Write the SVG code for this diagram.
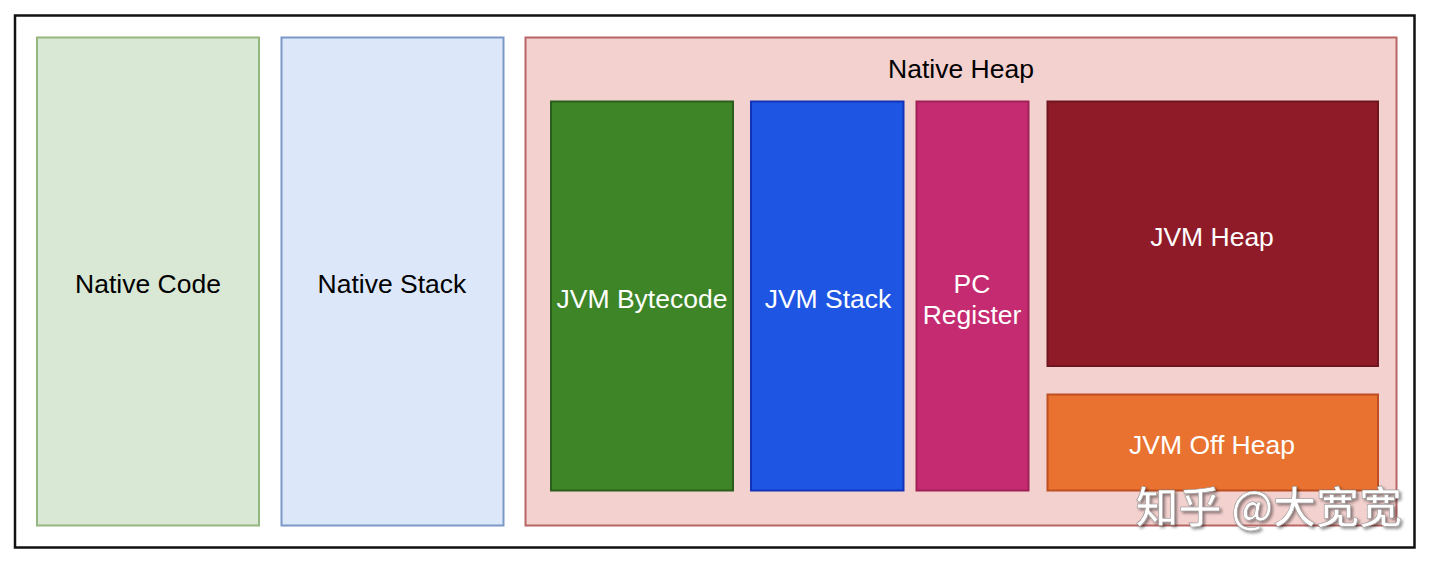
<svg xmlns="http://www.w3.org/2000/svg" width="1440" height="568" viewBox="0 0 1440 568">
<style>
.lbl{font-family:"Liberation Sans",Arial,sans-serif;font-size:26.5px;text-anchor:middle}
.dark{fill:#000}
.light{fill:#fff}
.box{stroke-width:2}
.wm{font-family:"Noto Sans CJK SC","Noto Sans",sans-serif;font-size:43px;font-weight:500;fill:#fff;stroke:#888;stroke-width:0.5;text-anchor:end}
</style>
<defs>
<filter id="sh" x="-10%" y="-20%" width="120%" height="140%">
<feDropShadow dx="2" dy="2" stdDeviation="1.5" flood-color="#000" flood-opacity="0.45"/>
</filter>
</defs>
<rect width="1440" height="568" fill="#fff"/>
<g id="frame"><rect x="15" y="15.5" width="1399.5" height="532" fill="#fff" stroke="#111" stroke-width="2.5"/></g>
<g id="native-code"><rect class="box" x="37" y="37.5" width="222" height="488" fill="#d9e7d5" stroke="#95b77f"/><text class="lbl dark" x="148" y="292.5">Native Code</text></g>
<g id="native-stack"><rect class="box" x="281.5" y="37.5" width="222" height="488" fill="#dce8fa" stroke="#7b98c7"/><text class="lbl dark" x="392" y="292.5">Native Stack</text></g>
<g id="native-heap"><rect class="box" x="525.5" y="37.5" width="871" height="488" fill="#f3d1cf" stroke="#b86665"/><text class="lbl dark" x="961" y="77.5">Native Heap</text></g>
<g id="jvm-bytecode"><rect class="box" x="551" y="101.5" width="182" height="389" fill="#3d8527" stroke="#2a5e1c"/><text class="lbl light" x="642" y="307.5">JVM Bytecode</text></g>
<g id="jvm-stack"><rect class="box" x="751" y="101.5" width="152.5" height="389" fill="#1e55e3" stroke="#1233b8"/><text class="lbl light" x="828" y="307.5">JVM Stack</text></g>
<g id="pc-register"><rect class="box" x="916.5" y="101.5" width="112" height="389" fill="#c52b71" stroke="#a02058"/><text class="lbl light" x="972" y="292.5">PC</text><text class="lbl light" x="972" y="323.5">Register</text></g>
<g id="jvm-heap"><rect class="box" x="1047.5" y="101.5" width="330.5" height="264.5" fill="#8f1b29" stroke="#6e1520"/><text class="lbl light" x="1212" y="245.5">JVM Heap</text></g>
<g id="jvm-off-heap"><rect class="box" x="1047.5" y="394.5" width="330.5" height="96" fill="#e97230" stroke="#bd4f22"/><text class="lbl light" x="1212" y="453.5">JVM Off Heap</text></g>
<g id="connectors"></g>
<text class="wm" x="1402" y="523" filter="url(#sh)">知乎 @大宽宽</text>
</svg>
